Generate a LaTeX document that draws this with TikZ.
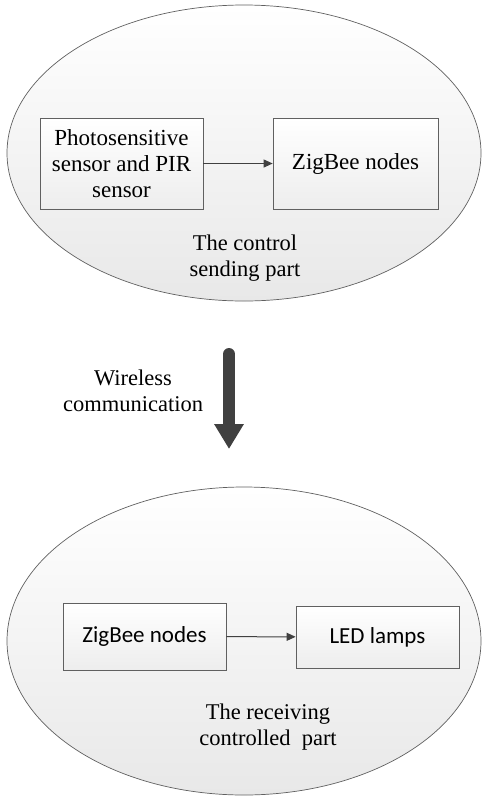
\documentclass[tikz,border=0pt]{standalone}
\usepackage{fontspec}
\setmainfont{Liberation Serif}
\newfontfamily\tnr{Liberation Serif}
\newfontfamily\calib{Carlito}
\usetikzlibrary{shapes.geometric,arrows.meta}
\definecolor{edgegray}{HTML}{606060}
\definecolor{arrowgray}{HTML}{404040}
\tikzset{
  region/.style={ellipse, draw=edgegray, line width=0.7pt, top color=white, bottom color=black!9, inner sep=0pt},
  blockbox/.style={rectangle, draw=edgegray, line width=0.7pt, top color=white, bottom color=black!7, inner sep=0pt, align=center},
  flow/.style={draw=arrowgray, line width=1pt, -{Triangle[width=8pt,length=9pt]}},
  bigflow/.style={draw=arrowgray, line width=12pt, line cap=round, -{Triangle[width=28pt,length=25pt]}},
  lbl/.style={align=center, inner sep=0pt, font=\tnr\fontsize{22.5}{26.5}\selectfont}
}
\begin{document}
\begin{tikzpicture}[x=1pt,y=-1pt]
\useasboundingbox (0,0) rectangle (482,796);
% top region
\node[region, minimum width=474pt, minimum height=296pt] (top) at (244,153) {};
\node[blockbox, minimum width=163pt, minimum height=91pt, font=\tnr\fontsize{23}{26}\selectfont] (sens) at (121.5,163.5) {Photosensitive\\sensor and PIR\\sensor};
\node[blockbox, minimum width=165pt, minimum height=91pt, font=\tnr\fontsize{23}{26}\selectfont] (zig1) at (355.5,163.5) {ZigBee nodes};
\draw[flow] (sens) -- (zig1);
\node[lbl] (toplbl) at (245,258) {The control\\sending part};
% wireless arrow
\coordinate (wa) at (229,354);
\coordinate (wb) at (229,449);
\draw[bigflow] (wa) -- (wb);
\node[lbl] (wl) at (133,391) {Wireless\\communication};
% bottom region
\node[region, minimum width=474pt, minimum height=308pt] (bot) at (244,641) {};
\node[blockbox, minimum width=163pt, minimum height=67pt, font=\calib\fontsize{23}{26}\selectfont] (zig2) at (144.5,636.5) {ZigBee nodes};
\node[blockbox, minimum width=163pt, minimum height=62pt, font=\calib\fontsize{23}{26}\selectfont] (led) at (377.5,637) {LED lamps};
\draw[flow] (zig2) -- (led);
\node[lbl] (botlbl) at (268,727) {The receiving\\controlled\ \ part};
\end{tikzpicture}
\end{document}
